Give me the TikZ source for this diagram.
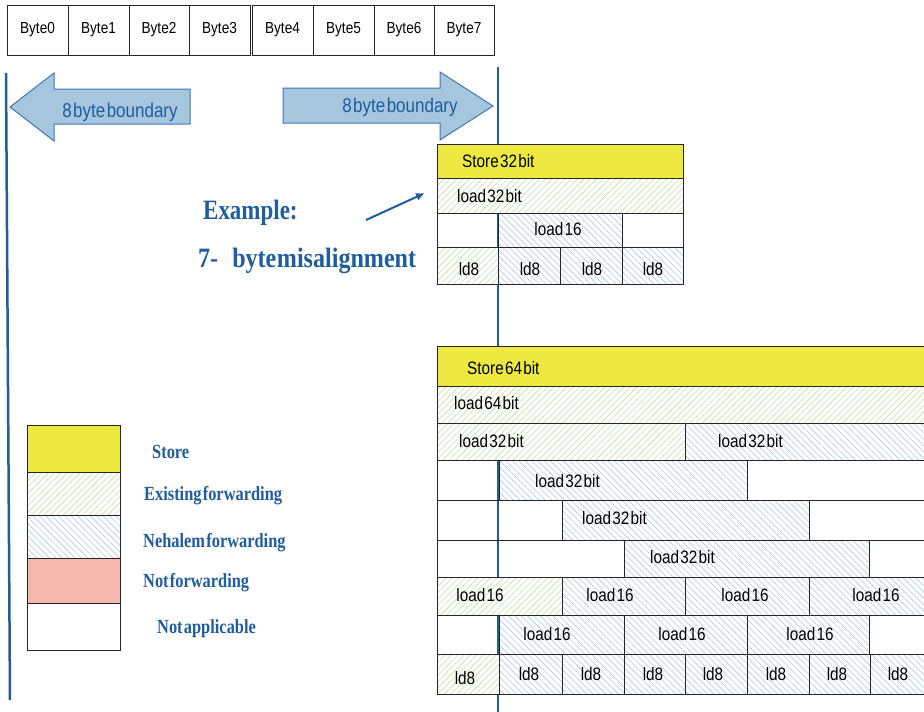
\documentclass[tikz,border=0pt]{standalone}
\usepackage{fontspec}
\usetikzlibrary{patterns.meta,arrows.meta}
\newfontfamily\narf[FakeStretch=0.85,WordSpace=0.3]{Liberation Sans}
\newfontfamily\serf[FakeStretch=0.82,WordSpace=0.3]{Liberation Serif}
\newfontfamily\serg[FakeStretch=0.86,WordSpace=0.1]{Liberation Serif}
\definecolor{blu}{RGB}{31,92,160}
\definecolor{arrfill}{RGB}{166,198,222}
\definecolor{arrdraw}{RGB}{60,120,180}
\definecolor{yel}{RGB}{238,233,64}
\definecolor{pinkf}{RGB}{245,184,174}
\definecolor{hgreen}{RGB}{196,224,168}
\definecolor{hblue}{RGB}{172,202,228}
\tikzset{
  cellbox/.style={draw=black!85, line width=0.9pt, inner sep=0pt, outer sep=0pt, anchor=north west},
  yelbox/.style={cellbox, fill=yel},
  pinkbox/.style={cellbox, fill=pinkf},
  exbox/.style={cellbox, preaction={fill=white}, pattern={Lines[angle=45,distance=4.5pt,line width=0.6pt]}, pattern color=hgreen},
  nhbox/.style={cellbox, preaction={fill=white}, pattern={Lines[angle=-45,distance=4.5pt,line width=0.6pt]}, pattern color=hblue},
  lbl/.style={font=\narf\fontsize{18}{18}\selectfont, inner sep=0pt, anchor=base},
  lblw/.style={lbl, anchor=base west},
  bytef/.style={font=\narf\fontsize{16}{16}\selectfont, inner sep=0pt},
  arrtxt/.style={font=\narf\fontsize{20}{20}\selectfont, text=blu, inner sep=0pt},
  legtxt/.style={font=\serf\bfseries\fontsize{20}{20}\selectfont, text=blu, inner sep=0pt, anchor=base west},
  bigtxt/.style={font=\serf\bfseries\fontsize{28}{28}\selectfont, text=blu, inner sep=0pt, anchor=base west},
  bigtxtb/.style={font=\serg\bfseries\fontsize{28}{28}\selectfont, text=blu, inner sep=0pt, anchor=base west},
  arrshape/.style={fill=arrfill, draw=arrdraw, line width=1pt},
  bline/.style={draw=blu, line width=2.5pt}
}
\newcommand\mycell[6]{\node[#2, minimum width={(#5-#3)*1pt}, minimum height={(#6-#4)*1pt}] (#1) at (#3,#4) {};}
\begin{document}
\begin{tikzpicture}[x=1pt,y=-1pt]
\useasboundingbox (0,0) rectangle (924,712);
\clip (0,0) rectangle (924,712);
% boundary lines
\coordinate (l1) at (6,73); \coordinate (l2) at (10,700);
\coordinate (r1) at (498,67); \coordinate (r2) at (498,712);
\path[bline] (l1) -- (l2);
\path[bline] (r1) -- (r2);
% bytes
\foreach \i/\a/\b in {0/7/68,1/68/129,2/129/189,3/189/250,4/252/313,5/313/374,6/374/434,7/434/494}{
  \mycell{b\i}{cellbox}{\a}{5}{\b}{55}
  \node[bytef] (b\i-t) at (b\i) {Byte\i};
}
% boundary arrows
\draw[arrshape] (10,107) -- (54,73) -- (54,89) -- (190,89) -- (190,124) -- (54,124) -- (54,141) -- cycle;
\node[arrtxt] (la) at (120,112) {8 byte boundary};
\draw[arrshape] (283,88) -- (440,88) -- (440,72) -- (493,106) -- (440,140) -- (440,123) -- (283,123) -- cycle;
\node[arrtxt] (ra) at (400,107) {8 byte boundary};
% example text
\node[bigtxt] (ex1) at (203,219) {Example:};
\node[bigtxtb] (ex2) at (198,267) {7-\hspace{14pt}byte misalignment};
\coordinate (as) at (366,220); \coordinate (ae) at (425,193);
\draw[blu, line width=2pt, -{Latex[length=9pt,width=8pt]}] (as) -- (ae);
% 32-bit table
\mycell{s32}{yelbox}{437}{144}{683}{178}
\node[lblw] (s32-t) at (462,167) {Store 32 bit};
\mycell{l32}{exbox}{437}{178}{683}{213}
\node[lblw] (l32-t) at (457,202) {load 32 bit};
\mycell{e1}{cellbox}{437}{213}{498}{247}
\mycell{l16}{nhbox}{498}{213}{622}{247}
\node[lbl] (l16-t) at (558,235) {load 16};
\mycell{e2}{cellbox}{622}{213}{683}{247}
\mycell{d1}{exbox}{437}{247}{498}{284}
\mycell{d2}{nhbox}{498}{247}{560}{284}
\mycell{d3}{nhbox}{560}{247}{622}{284}
\mycell{d4}{nhbox}{622}{247}{683}{284}
\node[lbl] (d1-t) at (469,275) {ld8};
\node[lbl] (d2-t) at (530,275) {ld8};
\node[lbl] (d3-t) at (592,275) {ld8};
\node[lbl] (d4-t) at (653,275) {ld8};
% 64-bit table
\mycell{s64}{yelbox}{437}{346}{940}{386}
\node[lblw] (s64-t) at (467,374) {Store 64 bit};
\mycell{l64}{exbox}{437}{386}{940}{423}
\node[lblw] (l64-t) at (454,409) {load 64 bit};
\mycell{r3a}{exbox}{437}{423}{685}{460}
\node[lblw] (r3a-t) at (459,447) {load 32 bit};
\mycell{r3b}{nhbox}{685}{423}{940}{460}
\node[lblw] (r3b-t) at (718,447) {load 32 bit};
\mycell{r4a}{cellbox}{437}{460}{499}{500}
\mycell{r4b}{nhbox}{499}{460}{747}{500}
\node[lblw] (r4b-t) at (535,487) {load 32 bit};
\mycell{r4c}{cellbox}{747}{460}{940}{500}
\mycell{r5a}{cellbox}{437}{500}{562}{540}
\mycell{r5b}{nhbox}{562}{500}{809}{540}
\node[lblw] (r5b-t) at (582,524) {load 32 bit};
\mycell{r5c}{cellbox}{809}{500}{940}{540}
\mycell{r6a}{cellbox}{437}{540}{624}{577}
\mycell{r6b}{nhbox}{624}{540}{869}{577}
\node[lblw] (r6b-t) at (650,563) {load 32 bit};
\mycell{r6c}{cellbox}{869}{540}{940}{577}
\mycell{r7a}{exbox}{437}{577}{562}{615}
\mycell{r7b}{nhbox}{562}{577}{685}{615}
\mycell{r7c}{nhbox}{685}{577}{809}{615}
\mycell{r7d}{nhbox}{809}{577}{940}{615}
\node[lbl] (r7a-t) at (480,601) {load 16};
\node[lbl] (r7b-t) at (610,601) {load 16};
\node[lbl] (r7c-t) at (745,601) {load 16};
\node[lbl] (r7d-t) at (876,601) {load 16};
\mycell{r8a}{cellbox}{437}{615}{499}{654}
\mycell{r8b}{nhbox}{499}{615}{624}{654}
\mycell{r8c}{nhbox}{624}{615}{747}{654}
\mycell{r8d}{nhbox}{747}{615}{869}{654}
\mycell{r8e}{cellbox}{869}{615}{940}{654}
\node[lbl] (r8b-t) at (547,640) {load 16};
\node[lbl] (r8c-t) at (682,640) {load 16};
\node[lbl] (r8d-t) at (810,640) {load 16};
\mycell{r9a}{exbox}{437}{654}{499}{694}
\node[lbl] (r9a-t) at (465,684) {ld8};
\foreach \n/\a/\b/\c in {b/499/562/529,c/562/624/591,d/624/685/653,e/685/747/713,f/747/809/776,g/809/870/837,h/870/940/898}{
  \mycell{r9\n}{nhbox}{\a}{654}{\b}{694}
  \node[lbl] (r9\n-t) at (\c,680) {ld8};
}
% legend
\mycell{g1}{yelbox}{27}{425}{120}{472}
\mycell{g2}{exbox}{27}{472}{120}{515}
\mycell{g3}{nhbox}{27}{515}{120}{558}
\mycell{g4}{pinkbox}{27}{558}{120}{603}
\mycell{g5}{cellbox}{27}{603}{120}{650}
\node[legtxt] (g1-t) at (152,458) {Store};
\node[legtxt] (g2-t) at (144,500) {Existing forwarding};
\node[legtxt] (g3-t) at (143,547) {Nehalem forwarding};
\node[legtxt] (g4-t) at (143,587) {Not forwarding};
\node[legtxt] (g5-t) at (157,633) {Not applicable};
\end{tikzpicture}
\end{document}
